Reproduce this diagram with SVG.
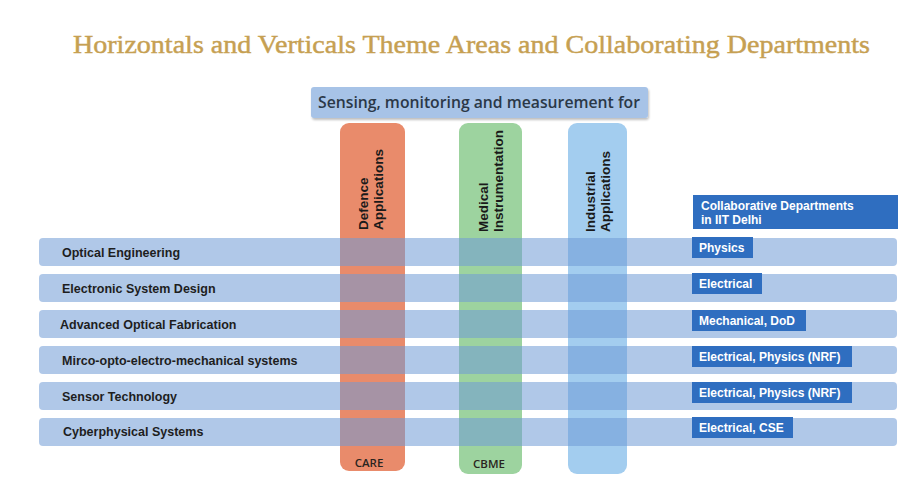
<svg xmlns="http://www.w3.org/2000/svg" width="916" height="493" viewBox="0 0 916 493">
  <style>
    .title { font-family: "Liberation Serif", "DejaVu Serif", serif; font-size: 26px; fill: #c6a052; stroke: #c6a052; stroke-width: 0.45px; }
    .sub { font-family: "Open Sans", "Liberation Sans", sans-serif; font-size: 16px; font-weight: 600; fill: #2b3847; }
    .col { stroke: none; }
    .coltxt { font-family: "Liberation Sans", Arial, sans-serif; font-size: 13.5px; font-weight: bold; fill: #1a1a1a; }
    .bar { fill: #6f9bd6; fill-opacity: 0.55; }
    .row { font-family: "Liberation Sans", Arial, sans-serif; font-size: 12.5px; font-weight: bold; fill: #1e1e1e; }
    .dept { fill: #2f6ec0; }
    .depttxt { font-family: "Liberation Sans", Arial, sans-serif; font-size: 12px; font-weight: bold; fill: #ffffff; }
    .foot { font-family: "Open Sans", "Liberation Sans", sans-serif; font-size: 11.5px; font-weight: 600; fill: #2a2520; text-anchor: middle; }
  </style>
  <defs>
    <filter id="sh" x="-5%" y="-20%" width="110%" height="150%">
      <feGaussianBlur in="SourceAlpha" stdDeviation="1.2"/>
      <feOffset dx="1" dy="1.5" result="b"/>
      <feComponentTransfer><feFuncA type="linear" slope="0.25"/></feComponentTransfer>
      <feMerge><feMergeNode/><feMergeNode in="SourceGraphic"/></feMerge>
    </filter>
  </defs>
  <rect width="916" height="493" fill="#ffffff"/>

  <g id="title">
    <text class="title" x="73" y="53" textLength="797" lengthAdjust="spacingAndGlyphs">Horizontals and Verticals Theme Areas and Collaborating Departments</text>
  </g>

  <g id="sensing-header">
    <rect x="311" y="87" width="337" height="31" rx="3" fill="#a7c3e7" filter="url(#sh)"/>
    <text class="sub" x="318" y="108" textLength="322" lengthAdjust="spacingAndGlyphs">Sensing, monitoring and measurement for</text>
  </g>

  <g id="col-defence">
    <rect class="col" x="340" y="123" width="65" height="348" rx="9" fill="#e98b6b"/>
    <text class="coltxt" transform="translate(368,230) rotate(-90)">Defence</text>
    <text class="coltxt" transform="translate(383,230) rotate(-90)">Applications</text>
    <text class="foot" x="369" y="467">CARE</text>
  </g>
  <g id="col-medical">
    <rect class="col" x="459" y="123" width="63" height="351" rx="9" fill="#9dd39f"/>
    <text class="coltxt" transform="translate(488,232) rotate(-90)">Medical</text>
    <text class="coltxt" transform="translate(503,232) rotate(-90)">Instrumentation</text>
    <text class="foot" x="489" y="468">CBME</text>
  </g>
  <g id="col-industrial">
    <rect class="col" x="568" y="123" width="59" height="351" rx="9" fill="#a3cdef"/>
    <text class="coltxt" transform="translate(595,232) rotate(-90)">Industrial</text>
    <text class="coltxt" transform="translate(610,232) rotate(-90)">Applications</text>
  </g>

  <g id="dept-header">
    <rect class="dept" x="693" y="195" width="205" height="34"/>
    <text class="depttxt" x="701" y="210">Collaborative Departments</text>
    <text class="depttxt" x="701" y="224">in IIT Delhi</text>
  </g>

  <g id="row-optical">
    <rect class="bar" x="39" y="238" width="858" height="28" rx="4"/>
    <text class="row" x="62" y="257">Optical Engineering</text>
    <rect class="dept" x="692" y="237" width="61" height="21"/>
    <text class="depttxt" x="699" y="252">Physics</text>
  </g>
  <g id="row-electronic">
    <rect class="bar" x="39" y="274" width="858" height="28" rx="4"/>
    <text class="row" x="62" y="293">Electronic System Design</text>
    <rect class="dept" x="692" y="273" width="70" height="21"/>
    <text class="depttxt" x="699" y="288">Electrical</text>
  </g>
  <g id="row-fabrication">
    <rect class="bar" x="39" y="310" width="858" height="28" rx="4"/>
    <text class="row" x="60" y="329">Advanced Optical Fabrication</text>
    <rect class="dept" x="692" y="310" width="114" height="21"/>
    <text class="depttxt" x="699" y="325">Mechanical, DoD</text>
  </g>
  <g id="row-moems">
    <rect class="bar" x="39" y="346" width="858" height="28" rx="4"/>
    <text class="row" x="62" y="365">Mirco-opto-electro-mechanical systems</text>
    <rect class="dept" x="692" y="346" width="160" height="21"/>
    <text class="depttxt" x="699" y="361">Electrical, Physics (NRF)</text>
  </g>
  <g id="row-sensor">
    <rect class="bar" x="39" y="382" width="858" height="28" rx="4"/>
    <text class="row" x="62" y="401">Sensor Technology</text>
    <rect class="dept" x="692" y="382" width="160" height="21"/>
    <text class="depttxt" x="699" y="397">Electrical, Physics (NRF)</text>
  </g>
  <g id="row-cyber">
    <rect class="bar" x="39" y="418" width="858" height="28" rx="4"/>
    <text class="row" x="63" y="436">Cyberphysical Systems</text>
    <rect class="dept" x="692" y="417" width="101" height="21"/>
    <text class="depttxt" x="699" y="432">Electrical, CSE</text>
  </g>
</svg>
